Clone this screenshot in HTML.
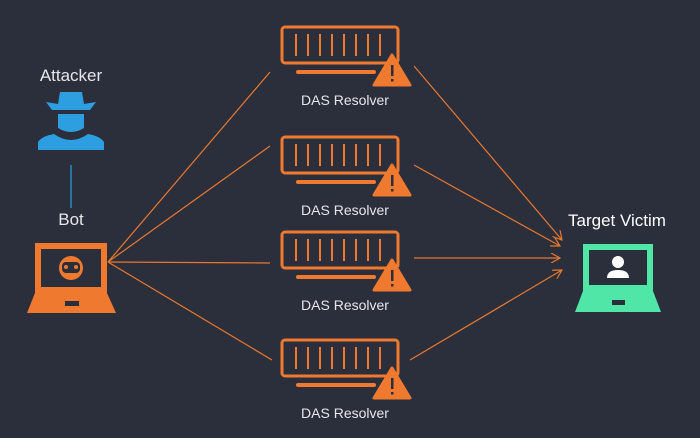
<!DOCTYPE html>
<html><head><style>
body{margin:0;background:#2b2e3b;}
svg{display:block}
text{font-family:"Liberation Sans",sans-serif;}
</style></head><body>
<svg width="700" height="438" viewBox="0 0 700 438">
<rect width="700" height="438" fill="#2b2e3b"/>
<defs>
<marker id="a" markerWidth="10" markerHeight="10" refX="9" refY="5" orient="auto" markerUnits="userSpaceOnUse"><path d="M0,0 L9,5 L0,10" fill="none" stroke="#e9782f" stroke-width="1.2"/></marker>
<g id="res">
<rect x="282" y="0" width="116" height="36" rx="3" fill="none" stroke="#ef7a2f" stroke-width="3"/>
<g stroke="#ef7a2f" stroke-width="2">
<line x1="296" y1="7" x2="296" y2="29"/><line x1="308" y1="7" x2="308" y2="29"/><line x1="320" y1="7" x2="320" y2="29"/><line x1="332" y1="7" x2="332" y2="29"/><line x1="344" y1="7" x2="344" y2="29"/><line x1="356" y1="7" x2="356" y2="29"/><line x1="368" y1="7" x2="368" y2="29"/><line x1="380" y1="7" x2="380" y2="29"/>
</g>
<rect x="296" y="43" width="80" height="4" rx="2" fill="#ef7a2f"/>
<path d="M392,28 L410,58 L374,58 Z" fill="#ef7a2f" stroke="#ef7a2f" stroke-width="3" stroke-linejoin="round"/>
<rect x="391" y="38" width="2.5" height="11" fill="#2b2e3b"/><rect x="391" y="52" width="2.5" height="2.5" fill="#2b2e3b"/>
</g>
</defs>
<g stroke="#e9782f" stroke-width="1.2">
<line x1="108" y1="262" x2="270" y2="72"/>
<line x1="108" y1="262" x2="270" y2="146"/>
<line x1="108" y1="262" x2="270" y2="263"/>
<line x1="108" y1="262" x2="272" y2="360"/>
<line x1="414" y1="66" x2="562" y2="240" marker-end="url(#a)"/>
<line x1="414" y1="165" x2="560" y2="246" marker-end="url(#a)"/>
<line x1="414" y1="258" x2="560" y2="258" marker-end="url(#a)"/>
<line x1="410" y1="360" x2="562" y2="270" marker-end="url(#a)"/>
</g>
<use href="#res" y="27"/>
<use href="#res" y="137"/>
<use href="#res" y="232"/>
<use href="#res" y="340"/>
<text x="345" y="105" font-size="14" fill="#e6e6ea" text-anchor="middle">DAS Resolver</text>
<text x="345" y="215" font-size="14" fill="#e6e6ea" text-anchor="middle">DAS Resolver</text>
<text x="345" y="310" font-size="14" fill="#e6e6ea" text-anchor="middle">DAS Resolver</text>
<text x="345" y="418" font-size="14" fill="#e6e6ea" text-anchor="middle">DAS Resolver</text>
<text x="71" y="81" font-size="17" fill="#e6e6ea" text-anchor="middle">Attacker</text>
<g fill="#2d9fe0">
<path d="M46,102 L58,104 L60,92 L82,92 L84,104 L96,102 L90,110 L52,110 Z"/>
<path d="M58,114 L84,114 L84,128 Q71,136 58,128 Z"/>
<path d="M38,150 L38,142 Q42,136 54,134 Q71,146 88,134 Q100,136 104,142 L104,150 Z"/>
</g>
<line x1="71" y1="165" x2="71" y2="208" stroke="#2d9fe0" stroke-width="1.2"/>
<text x="71" y="225" font-size="17" fill="#e6e6ea" text-anchor="middle">Bot</text>
<rect x="35" y="243" width="72" height="50" fill="#ef7a2f"/>
<rect x="41" y="249" width="60" height="38" fill="#2b2e3b"/>
<path d="M35,293 L107,293 L116,313 L27,313 Z" fill="#ef7a2f"/>
<rect x="65" y="301" width="14" height="5" fill="#2b2e3b"/>
<circle cx="71" cy="268" r="12" fill="#ef7a2f"/>
<rect x="62" y="262" width="18" height="11" rx="4" fill="#2b2e3b"/>
<circle cx="66" cy="267" r="2" fill="#ef7a2f"/><circle cx="76" cy="267" r="2" fill="#ef7a2f"/>
<text x="617" y="226" font-size="17" fill="#ffffff" text-anchor="middle">Target Victim</text>
<rect x="583" y="244" width="70" height="47" fill="#4fe6a8"/>
<rect x="589" y="250" width="58" height="35" fill="#2b2e3b"/>
<path d="M583,291 L653,291 L661,312 L575,312 Z" fill="#4fe6a8"/>
<rect x="612" y="300" width="13" height="5" fill="#2b2e3b"/>
<circle cx="618" cy="262" r="6" fill="#ffffff"/>
<path d="M607,278 Q607,270 618,270 Q629,270 629,278 Z" fill="#ffffff"/>
</svg>
</body></html>
